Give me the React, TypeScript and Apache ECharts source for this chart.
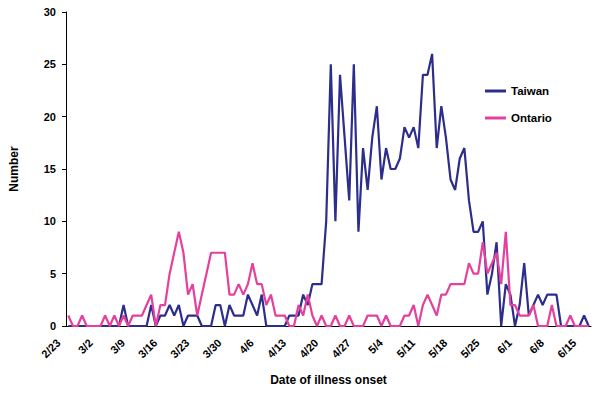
import React, { useEffect, useRef } from "react";
import * as echarts from "echarts";

// Category axis: every day from 2/23 to 6/16 (2003)
const monthRanges: [number, number, number][] = [
  [2, 23, 28],
  [3, 1, 31],
  [4, 1, 30],
  [5, 1, 31],
  [6, 1, 16],
];
const categories: string[] = [];
for (const [m, s, e] of monthRanges) for (let d = s; d <= e; d++) categories.push(`${m}/${d}`);

const taiwan = [
  0, 0, 0, 0, 0, 0, 0, 0, 0, 0, 0, 0, 2, 0, 0, 0, 0, 0, 2,
  0, 1, 1, 2, 1, 2, 0, 1, 1, 1, 0,
  0, 0, 2, 2, 0, 2, 1, 1, 1, 3,
  2, 1, 3, 0, 0, 0, 0, 0, 1, 1,
  1, 3, 2, 4, 4, 4, 10, 25, 10, 24,
  18, 12, 25, 9, 17, 13, 18, 21, 14, 17,
  15, 15, 16, 19, 18, 19, 17, 24, 24, 26,
  17, 21, 18, 14, 13, 16, 17, 12, 9, 9,
  10, 3, 5, 8, 0, 4, 3, 0, 2, 6,
  1, 2, 3, 2, 3, 3, 3, 0, 0, 0,
  0, 0, 1, 0,
];

const ontario = [
  1, 0, 0, 1, 0, 0, 0, 0, 1, 0,
  1, 0, 1, 0, 1, 1, 1, 2, 3, 0,
  2, 2, 5, 7, 9, 7, 3, 4, 1, 3,
  5, 7, 7, 7, 7, 3, 3, 4, 3, 4,
  6, 4, 4, 2, 3, 1, 1, 1, 0, 0,
  2, 1, 3, 1, 0, 1, 0, 0, 1, 0,
  0, 1, 0, 0, 0, 1, 1, 1, 0, 1,
  0, 0, 0, 1, 1, 2, 0, 2, 3, 2,
  1, 3, 3, 4, 4, 4, 4, 6, 5, 5,
  8, 5, 6, 7, 4, 9, 2, 2, 1, 1,
  1, 2, 0, 0, 0, 2, 0, 0, 0, 1,
  0, 0, 0, 0,
];

const seriesNames = ["Taiwan", "Ontario"];
const colors = ["#2d2d8c", "#e4409c"];
const font = "'Liberation Sans', Arial, sans-serif";

export default function App() {
  const ref = useRef<HTMLDivElement>(null);
  useEffect(() => {
    if (!ref.current) return;
    const chart = echarts.init(ref.current, undefined, { renderer: "svg" });
    const bold = { fontFamily: font, fontWeight: "bold" as const, color: "#000" };
    chart.setOption({
      animation: false,
      backgroundColor: "#fff",
      grid: { left: 56, right: 9, top: 12, bottom: 67, containLabel: false },
      legend: {
        orient: "vertical",
        left: 480,
        top: 80,
        itemGap: 15,
        icon: "rect",
        itemWidth: 21,
        itemHeight: 3,
        textStyle: { ...bold, fontSize: 11.5 },
        data: seriesNames,
      },
      xAxis: {
        type: "category",
        data: categories,
        boundaryGap: true,
        name: "Date of illness onset",
        nameLocation: "middle",
        nameGap: 48,
        nameTextStyle: { ...bold, fontSize: 12 },
        axisLine: { lineStyle: { color: "#000", width: 1 } },
        axisTick: { interval: 6, length: 4, lineStyle: { color: "#000" } },
        axisLabel: {
          ...bold,
          interval: 6,
          rotate: 45,
          fontSize: 11,
          margin: 5,
          padding: [0, 14, 0, 0],
        },
        splitLine: { show: false },
      },
      yAxis: {
        type: "value",
        min: 0,
        max: 30,
        interval: 5,
        name: "Number",
        nameLocation: "middle",
        nameGap: 46,
        nameTextStyle: { ...bold, fontSize: 12 },
        axisLine: { show: true, lineStyle: { color: "#000", width: 1 } },
        axisTick: { show: true, length: 4, lineStyle: { color: "#000" } },
        axisLabel: { ...bold, fontSize: 11, margin: 10 },
        splitLine: { show: false },
      },
      series: [
        {
          name: seriesNames[0],
          type: "line",
          data: taiwan,
          symbol: "none",
          lineStyle: { color: colors[0], width: 2.2 },
          itemStyle: { color: colors[0] },
        },
        {
          name: seriesNames[1],
          type: "line",
          data: ontario,
          symbol: "none",
          lineStyle: { color: colors[1], width: 2.2 },
          itemStyle: { color: colors[1] },
        },
      ],
    });
    return () => chart.dispose();
  }, []);
  return (
    <div
      ref={ref}
      style={{ position: "fixed", left: 0, top: 0, width: 600, height: 393, background: "#fff" }}
    />
  );
}
